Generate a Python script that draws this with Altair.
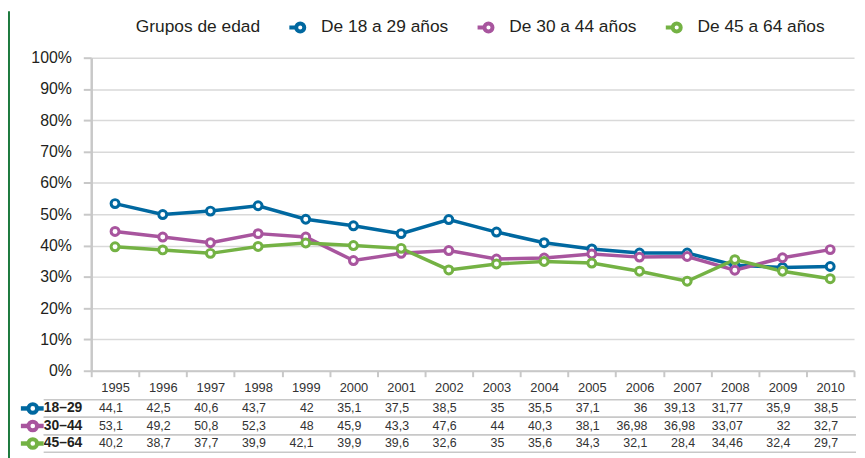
import altair as alt
import pandas as pd

FONT = "Liberation Sans"
TEXT = "#231f20"
GRID = "#d9d9d9"
AXIS = "#c8c8c8"

years = ["1995", "1996", "1997", "1998", "1999", "2000", "2001", "2002",
         "2003", "2004", "2005", "2006", "2007", "2008", "2009", "2010"]
series_names = ["De 18 a 29 años", "De 30 a 44 años", "De 45 a 64 años"]
colors = ["#0068a0", "#a8559e", "#74b244"]

# values of the plotted lines
line_18_29 = [53.4, 49.9, 51.0, 52.7, 48.4, 46.3, 43.8, 48.3, 44.3, 40.9, 38.9, 37.6, 37.6, 33.7, 33.0, 33.3]
line_30_44 = [44.5, 42.7, 40.9, 43.8, 42.7, 35.2, 37.5, 38.4, 35.7, 36.0, 37.3, 36.3, 36.5, 32.1, 36.1, 38.7]
line_45_64 = [39.6, 38.6, 37.5, 39.7, 40.8, 40.0, 39.1, 32.2, 34.1, 34.9, 34.4, 31.8, 28.6, 35.5, 31.8, 29.4]

# data table printed below the chart
row_labels = ["18–29", "30–44", "45–64"]
table_18_29 = ["44,1", "42,5", "40,6", "43,7", "42", "35,1", "37,5", "38,5",
               "35", "35,5", "37,1", "36", "39,13", "31,77", "35,9", "38,5"]
table_30_44 = ["53,1", "49,2", "50,8", "52,3", "48", "45,9", "43,3", "47,6",
               "44", "40,3", "38,1", "36,98", "36,98", "33,07", "32", "32,7"]
table_45_64 = ["40,2", "38,7", "37,7", "39,9", "42,1", "39,9", "39,6", "32,6",
               "35", "35,6", "34,3", "32,1", "28,4", "34,46", "32,4", "29,7"]

rows = []
for name, vals in zip(series_names, [line_18_29, line_30_44, line_45_64]):
    for y, v in zip(years, vals):
        rows.append({"serie": name, "year": y, "value": v})
df_lines = pd.DataFrame(rows)

trows = []
for lab, vals in zip(row_labels, [table_18_29, table_30_44, table_45_64]):
    for y, v in zip(years, vals):
        trows.append({"row": lab, "year": y, "val": v})
df_table = pd.DataFrame(trows)
df_rows = pd.DataFrame({"row": row_labels})
df_one = pd.DataFrame({"k": [0]})

W = 770
H = 316
TABLE_TOP = 345.2
TABLE_BOTTOM = 398.3

xscale = alt.Scale(type="band", domain=years, paddingInner=0, paddingOuter=0)
color = alt.Color(
    "serie:N",
    scale=alt.Scale(domain=series_names, range=colors),
    legend=alt.Legend(
        orient="none", legendX=45, legendY=-44, direction="horizontal",
        padding=0,
        title="Grupos de edad", titleOrient="left", titleFontSize=17.5,
        titleFontWeight="normal", titleColor=TEXT, titleFont=FONT,
        titlePadding=27, titleBaseline="middle",
        labelFontSize=17.5, labelColor=TEXT, labelFont=FONT, labelOffset=8,
        columnPadding=21,
        symbolType="M-1,0L-0.37,0M0.37,0A0.37,0.37,0,1,1,-0.37,0A0.37,0.37,0,1,1,0.37,0Z",
        symbolSize=484, symbolStrokeWidth=4, symbolFillColor="white",
        symbolOpacity=1,
    ),
)

x_enc = alt.X(
    "year:N", sort=years, scale=xscale,
    axis=alt.Axis(
        title=None, labelAngle=0, tickBand="extent", tickSize=6,
        tickColor=AXIS, tickWidth=2, domainColor=AXIS, domainWidth=2,
        labelFontSize=13, labelColor="#333333", labelFont=FONT,
        labelPadding=5, grid=False,
    ),
)
y_enc = alt.Y(
    "value:Q", scale=alt.Scale(domain=[0, 100], nice=False),
    axis=alt.Axis(
        title=None, values=[0, 10, 20, 30, 40, 50, 60, 70, 80, 90, 100],
        labelExpr="datum.value + '%'", grid=True, gridColor=GRID,
        gridWidth=1.5, domainColor=AXIS, domainWidth=2.5, tickSize=8,
        tickColor=AXIS, tickWidth=2, labelFontSize=16, labelColor=TEXT,
        labelFont=FONT, labelPadding=12,
    ),
)

base = alt.Chart(df_lines)
lines = base.mark_line(strokeWidth=3.5).encode(x=x_enc, y=y_enc, color=color)
points = base.mark_point(filled=False, fill="white", size=64, strokeWidth=3,
                         opacity=1).encode(x=x_enc, y=y_enc, color=color)
edge = alt.Chart(df_one).mark_rule(color="#1d7a3e", strokeWidth=2).encode(
    x=alt.value(-83), y=alt.value(-47), y2=alt.value(410))

top = alt.layer(edge, lines, points)

# ---- table below the plot ----
row_scale = alt.Scale(type="band", domain=row_labels, paddingInner=0,
                      paddingOuter=0, range=[TABLE_TOP, TABLE_BOTTOM])
row_color = alt.Color("row:N", scale=alt.Scale(domain=row_labels, range=colors), legend=None)
x_tab = alt.X("year:N", sort=years, scale=xscale, axis=None)


def y_row(band_pos=None):
    if band_pos is None:
        return alt.Y("row:N", sort=row_labels, scale=row_scale, axis=None)
    return alt.Y("row:N", sort=row_labels, scale=row_scale, axis=None,
                 bandPosition=band_pos)


rules_top = alt.Chart(df_rows).mark_rule(color=AXIS, strokeWidth=1.5).encode(
    x=alt.value(-48), x2=alt.value(W + 2), y=y_row(0))
rules_bot = alt.Chart(df_rows).mark_rule(color=AXIS, strokeWidth=1.5).encode(
    x=alt.value(-48), x2=alt.value(W + 2), y=y_row(1))

cells = alt.Chart(df_table).mark_text(
    align="right", dx=8, fontSize=12.5, color="#333333", font=FONT
).encode(x=x_tab, y=y_row(), text="val:N")

row_text = alt.Chart(df_rows).mark_text(
    align="right", fontSize=14, fontWeight="bold", color=TEXT, font=FONT
).encode(x=alt.value(-9), y=y_row(), text="row:N")

marker_line = alt.Chart(df_rows).mark_rule(strokeWidth=4.5).encode(
    x=alt.value(-71), x2=alt.value(-48), y=y_row(), color=row_color)
marker_pt = alt.Chart(df_rows).mark_point(
    filled=False, fill="white", size=76, strokeWidth=4, opacity=1
).encode(x=alt.value(-59), y=y_row(), color=row_color)

table = alt.layer(rules_top, rules_bot, cells, row_text, marker_line, marker_pt)

chart = (
    alt.layer(top, table)
    .resolve_scale(y="independent", color="independent")
    .resolve_axis(x="independent", y="independent")
    .resolve_legend(color="independent")
    .properties(width=W, height=H, padding=0, background="white")
    .configure_view(stroke=None)
)

chart.save("out.html", embed_options={"renderer": "svg", "actions": False})
